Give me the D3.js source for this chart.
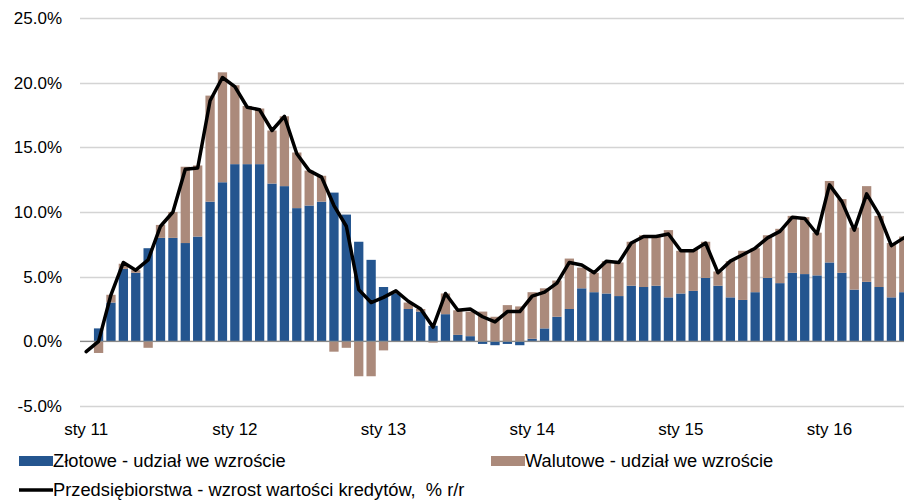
<!DOCTYPE html>
<html>
<head>
<meta charset="utf-8">
<script src="https://cdn.jsdelivr.net/npm/d3@7"></script>
<style>
  body { margin: 0; background: #fff; }
  svg { display: block; font-family: 'Liberation Sans', Arial, sans-serif; }
</style>
</head>
<body>
<div id="chartwrap"></div>
<script>
const WIDTH = 904;
const HEIGHT = 503;

// monthly categories, sty 11 .. lip 16
const months = d3.timeMonths(new Date(2011, 0, 1), new Date(2016, 7, 1));
const tickLabels = ['sty 11', 'sty 12', 'sty 13', 'sty 14', 'sty 15', 'sty 16'];
const yTicks = [-5, 0, 5, 10, 15, 20, 25];

const zlotowe = [0, 1.0, 3.0, 5.6, 5.3, 7.2, 8.0, 8.0, 7.6, 8.1, 10.8, 12.3,
  13.7, 13.7, 13.7, 12.2, 12.0, 10.3, 10.5, 10.8, 11.5, 9.8, 7.7, 6.3,
  4.2, 3.7, 2.5, 2.3, 1.2, 2.1, 0.5, 0.4, -0.2, -0.3, -0.2, -0.3,
  0.2, 1.0, 1.9, 2.5, 4.1, 3.8, 3.7, 3.5, 4.3, 4.2, 4.3, 3.4,
  3.7, 3.9, 4.9, 4.3, 3.4, 3.2, 3.8, 4.9, 4.5, 5.3, 5.2, 5.1,
  6.1, 5.3, 4.0, 4.6, 4.2, 3.4, 3.8];

const walutowe = [0, -0.9, 0.6, 0.4, 0.2, -0.5, 1.0, 2.0, 5.9, 5.5, 8.2, 8.5,
  6.1, 4.5, 4.3, 4.1, 5.4, 4.3, 2.7, 2.0, -0.8, -0.5, -2.7, -2.7,
  -0.7, 0, 0.5, 0.2, -0.1, 1.6, 1.9, 1.9, 2.3, 1.9, 2.8, 2.7,
  3.6, 3.1, 2.8, 3.9, 1.6, 1.5, 2.5, 2.6, 3.4, 4.0, 3.9, 5.2,
  3.3, 3.2, 2.8, 1.1, 2.8, 3.8, 3.4, 3.3, 4.2, 4.4, 4.4, 3.3,
  6.3, 5.7, 4.8, 7.4, 5.5, 4.2, 4.3];

const przedsiebiorstwa = [-0.8, 0.0, 3.6, 6.1, 5.5, 6.3, 8.9, 10.0, 13.3, 13.4, 18.6, 20.4,
  19.7, 18.1, 17.9, 16.3, 17.4, 14.5, 13.2, 12.7, 10.5, 8.9, 4.0, 3.0,
  3.4, 3.9, 3.1, 2.5, 1.1, 3.7, 2.4, 2.5, 1.9, 1.5, 2.3, 2.3,
  3.5, 3.8, 4.5, 6.1, 5.9, 5.3, 6.2, 6.1, 7.6, 8.1, 8.1, 8.3,
  7.0, 7.0, 7.6, 5.3, 6.2, 6.7, 7.2, 8.0, 8.5, 9.6, 9.5, 8.3,
  12.1, 10.8, 8.6, 11.4, 9.8, 7.4, 8.0];

const colors = { pln: '#24558f', fx: '#ab8a7b', line: '#000000' };

const chart = { left: 80, right: 910, top: 18, bottom: 406 };

const table = months.map((m, i) => ({ i, pln: zlotowe[i], fx: walutowe[i], total: przedsiebiorstwa[i] }));

const xScale = d3.scaleBand()
  .domain(d3.range(months.length))
  .range([chart.left, chart.right])
  .paddingInner(0.25)
  .paddingOuter(0.125);

const yScale = d3.scaleLinear()
  .domain([-5, 25])
  .range([chart.bottom, chart.top]);

const svg = d3.select('#chartwrap')
  .append('svg')
  .attr('width', WIDTH)
  .attr('height', HEIGHT);

// gridlines
svg.append('g')
  .selectAll('line')
  .data(yTicks)
  .enter()
  .append('line')
  .attr('x1', chart.left)
  .attr('x2', chart.right)
  .attr('y1', d => Math.round(yScale(d)) + 0.5)
  .attr('y2', d => Math.round(yScale(d)) + 0.5)
  .attr('stroke', '#d4d4d4')
  .attr('stroke-width', 1.3);

// y labels
const yAxis = d3.axisLeft(yScale)
  .tickValues(yTicks)
  .tickFormat(d => d.toFixed(1) + '%')
  .tickSize(0)
  .tickPadding(0);

svg.append('g')
  .attr('id', 'y-axis')
  .attr('transform', 'translate(62,0)')
  .call(yAxis)
  .call(g => g.select('.domain').remove())
  .selectAll('text')
  .attr('font-size', 17)
  .attr('font-family', "'Liberation Sans', Arial, sans-serif")
  .attr('fill', '#000');

// stacked bars
const stack = d3.stack()
  .keys(['pln', 'fx'])
  .offset(d3.stackOffsetDiverging);

const series = stack(table);

svg.append('g')
  .selectAll('g')
  .data(series)
  .enter()
  .append('g')
  .attr('fill', d => colors[d.key])
  .selectAll('rect')
  .data(d => d)
  .enter()
  .append('rect')
  .attr('x', d => xScale(d.data.i))
  .attr('width', xScale.bandwidth())
  .attr('y', d => yScale(Math.max(d[0], d[1])))
  .attr('height', d => Math.abs(yScale(d[0]) - yScale(d[1])));

// zero line
svg.append('line')
  .attr('x1', chart.left)
  .attr('x2', chart.right)
  .attr('y1', yScale(0))
  .attr('y2', yScale(0))
  .attr('stroke', '#8a8a8a')
  .attr('stroke-width', 1.2);

// total line
const line = d3.line()
  .x(d => xScale(d.i) + xScale.bandwidth() / 2)
  .y(d => yScale(d.total));

svg.append('path')
  .datum(table)
  .attr('d', line)
  .attr('fill', 'none')
  .attr('stroke', colors.line)
  .attr('stroke-width', 3.5)
  .attr('stroke-linejoin', 'round')
  .attr('stroke-linecap', 'round');

// x labels
const xTickIdx = d3.range(0, months.length, 12);
const xAxis = d3.axisBottom(xScale)
  .tickValues(xTickIdx)
  .tickFormat((d, i) => tickLabels[i])
  .tickSize(0)
  .tickPadding(0);

svg.append('g')
  .attr('id', 'x-axis')
  .attr('transform', 'translate(0,423)')
  .call(xAxis)
  .call(g => g.select('.domain').remove())
  .selectAll('text')
  .attr('font-size', 17)
  .attr('font-family', "'Liberation Sans', Arial, sans-serif")
  .attr('fill', '#000');

// legend
const legendItems = [
  { label: 'Złotowe - udział we wzroście', type: 'rect', color: colors.pln, x: 19, y: 461 },
  { label: 'Walutowe - udział we wzroście', type: 'rect', color: colors.fx, x: 491, y: 461 },
  { label: 'Przedsiębiorstwa - wzrost wartości kredytów,  % r/r', type: 'line', color: colors.line, x: 19, y: 490 }
];

const lg = svg.append('g')
  .selectAll('g')
  .data(legendItems)
  .enter()
  .append('g')
  .attr('transform', d => `translate(${d.x},${d.y})`);

lg.filter(d => d.type === 'rect')
  .append('rect')
  .attr('x', 0)
  .attr('y', -5)
  .attr('width', 34)
  .attr('height', 10)
  .attr('fill', d => d.color);

lg.filter(d => d.type === 'line')
  .append('line')
  .attr('x1', 0)
  .attr('x2', 34)
  .attr('y1', 0)
  .attr('y2', 0)
  .attr('stroke', d => d.color)
  .attr('stroke-width', 3.5);

lg.append('text')
  .attr('x', 34)
  .attr('y', 0)
  .attr('dy', '0.35em')
  .attr('font-size', 18.3)
  .attr('fill', '#000')
  .style('white-space', 'pre')
  .text(d => d.label);
</script>
</body>
</html>
